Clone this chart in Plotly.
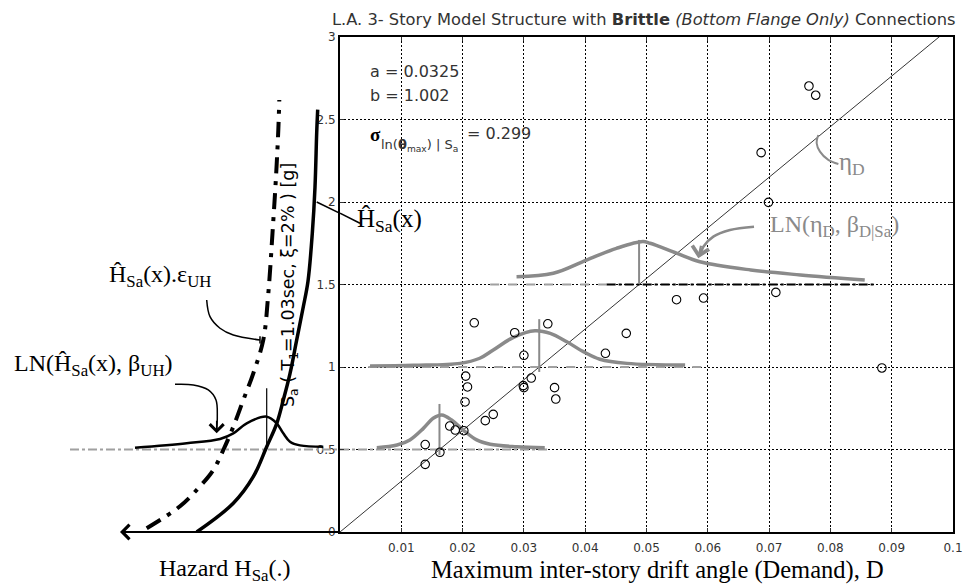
import numpy as np
import plotly.graph_objects as go

# ---- fitted demand model  theta_max = a * Sa^b  and its dispersion ----
a_fit = 0.0325
b_fit = 1.002
sigma_fit = 0.299

# ---- nonlinear analysis results: peak inter-story drift vs Sa [g] ----
drift = [0.0139, 0.0139, 0.0163, 0.0179, 0.0188, 0.0202, 0.0204, 0.0208, 0.0205, 0.0219,
         0.0237, 0.0250, 0.0285, 0.0299, 0.0300, 0.0300, 0.0312, 0.0339, 0.0350, 0.0352,
         0.0433, 0.0467, 0.0549, 0.0593, 0.0711, 0.0687, 0.0699, 0.0765, 0.0776, 0.0884]
sa_rec = [0.530, 0.410, 0.483, 0.642, 0.618, 0.614, 0.788, 0.879, 0.945, 1.268,
          0.675, 0.713, 1.208, 0.887, 0.875, 1.071, 0.933, 1.262, 0.875, 0.806,
          1.083, 1.204, 1.408, 1.418, 1.452, 2.299, 1.998, 2.703, 2.647, 0.994]

# ---- schematic demand densities LN(eta_D, beta_D|Sa) at three Sa levels ----
pdf_levels = [0.5, 1.0, 1.5]
pdf05_x = [0.0060, 0.0093, 0.0114, 0.0136, 0.0152, 0.0166, 0.0182, 0.0201, 0.0223, 0.0245, 0.0288, 0.0334]
pdf05_y = [0.511, 0.527, 0.558, 0.628, 0.689, 0.709, 0.679, 0.618, 0.558, 0.532, 0.517, 0.511]
pdf10_x = [0.0049, 0.0120, 0.0196, 0.0228, 0.0250, 0.0283, 0.0318, 0.0343, 0.0370, 0.0397, 0.0424, 0.0468, 0.0563]
pdf10_y = [1.006, 1.010, 1.022, 1.053, 1.103, 1.180, 1.220, 1.204, 1.153, 1.093, 1.047, 1.022, 1.012]
pdf15_x = [0.0288, 0.0348, 0.0402, 0.0451, 0.0494, 0.0506, 0.0549, 0.0587, 0.0670, 0.0751, 0.0856]
pdf15_y = [1.547, 1.568, 1.648, 1.719, 1.760, 1.750, 1.690, 1.638, 1.588, 1.558, 1.527]
median_lo = [0.467, 0.970, 1.507]
median_hi = [0.776, 1.290, 1.770]

# horizontal reference levels drawn under each density (drift extents)
level05_main = [0.0, 0.0338]
level10_main = [0.0046, 0.0599]
level15_grey = [0.0245, 0.0435]
level15_black = [0.0435, 0.0873]

# ---- hazard side (horizontal unit: log-hazard, growing to the right) ----
haz_sa = [0.0, 0.174, 0.335, 0.517, 0.657, 0.80, 0.96, 1.164, 1.365, 1.52, 1.81, 2.09, 2.42, 2.56]
haz_val = [1.967, 2.333, 2.533, 2.667, 2.767, 2.833, 2.90, 2.967, 3.033, 3.08, 3.123, 3.15, 3.167, 3.177]
hazu_sa = [0.023, 0.156, 0.277, 0.376, 0.497, 0.638, 0.80, 0.962, 1.164, 1.445, 1.812, 2.153, 2.436, 2.618]
hazu_val = [1.467, 1.80, 2.00, 2.133, 2.233, 2.333, 2.433, 2.533, 2.633, 2.683, 2.725, 2.76, 2.783, 2.793]
hpdf_val = [1.35, 1.867, 2.20, 2.333, 2.467, 2.667, 2.767, 2.833, 2.90, 3.00, 3.233]
hpdf_sa = [0.511, 0.538, 0.564, 0.598, 0.659, 0.699, 0.659, 0.598, 0.547, 0.525, 0.517]
hpdf_median = 2.667
hpdf_lo, hpdf_hi = 0.517, 0.871
haz_level05 = [0.70, 3.40]
haz_range = [0.0, 3.40]

x_ticks = [0.01, 0.02, 0.03, 0.04, 0.05, 0.06, 0.07, 0.08, 0.09, 0.1]
x_ticktext = ["0.01", "0.02", "0.03", "0.04", "0.05", "0.06", "0.07", "0.08", "0.09", "0.1"]
y_ticks = [0, 0.5, 1, 1.5, 2, 2.5, 3]
y_ticktext = ["0", "0.5", "1", "1.5", "2", "2.5", "3"]

GREY = "#8a8a8a"
SERIF = "Liberation Serif"
SANS = "DejaVu Sans"

W, H = 972, 586
ax_l, ax_r, ax_t, ax_b = 340, 953, 37, 532   # plot box in pixels

fig = go.Figure()

# ---------------- main panel ----------------
# median demand line
sa_line = np.linspace(0, 3.1, 80)
fig.add_trace(go.Scatter(x=a_fit * sa_line ** b_fit, y=sa_line, mode="lines",
                         line=dict(color="black", width=0.8), hoverinfo="skip"))

# reference levels
fig.add_trace(go.Scatter(x=level05_main, y=[pdf_levels[0]] * 2, mode="lines",
                         line=dict(color="#a0a0a0", width=2, dash="dashdot")))
fig.add_trace(go.Scatter(x=level10_main, y=[pdf_levels[1]] * 2, mode="lines",
                         line=dict(color="#a0a0a0", width=2, dash="dash")))
fig.add_trace(go.Scatter(x=level15_grey, y=[pdf_levels[2]] * 2, mode="lines",
                         line=dict(color="#a0a0a0", width=2, dash="dash")))
fig.add_trace(go.Scatter(x=level15_black, y=[pdf_levels[2]] * 2, mode="lines",
                         line=dict(color="black", width=2, dash="dashdot")))

# densities and their medians
for px_, py_ in [(pdf05_x, pdf05_y), (pdf10_x, pdf10_y), (pdf15_x, pdf15_y)]:
    fig.add_trace(go.Scatter(x=px_, y=py_, mode="lines", line_shape="spline",
                             line=dict(color=GREY, width=3.5)))
for lvl, lo, hi in zip(pdf_levels, median_lo, median_hi):
    xm = a_fit * lvl ** b_fit
    fig.add_trace(go.Scatter(x=[xm, xm], y=[lo, hi], mode="lines",
                             line=dict(color=GREY, width=2)))

# analysis points
fig.add_trace(go.Scatter(x=drift, y=sa_rec, mode="markers",
                         marker=dict(symbol="circle-open", size=8.5, color="black",
                                     line=dict(width=1.1, color="black"))))

# eta_D pointer
fig.add_trace(go.Scatter(x=[0.07803, 0.07776, 0.0783, 0.07966, 0.0813],
                         y=[2.406, 2.356, 2.305, 2.255, 2.23], mode="lines",
                         line_shape="spline", line=dict(color=GREY, width=2)))
# LN(eta_D, beta) pointer
fig.add_trace(go.Scatter(x=[0.06754, 0.06362, 0.0609, 0.05927, 0.0588],
                         y=[1.850, 1.830, 1.790, 1.729, 1.68], mode="lines",
                         line_shape="spline", line=dict(color=GREY, width=2.5)))
# H_Sa(x) label leader (main-panel part)
fig.add_trace(go.Scatter(x=[0.0, 0.00326], y=[1.932, 1.871], mode="lines",
                         line=dict(color="black", width=1.5)))

# ---------------- hazard panel ----------------
L = dict(xaxis="x2", yaxis="y2")
fig.add_trace(go.Scatter(x=haz_level05, y=[pdf_levels[0]] * 2, mode="lines",
                         line=dict(color="#a0a0a0", width=2, dash="dashdot"), **L))
fig.add_trace(go.Scatter(x=haz_val, y=haz_sa, mode="lines", line_shape="spline",
                         line=dict(color="black", width=3.5), **L))
fig.add_trace(go.Scatter(x=hazu_val, y=hazu_sa, mode="lines", line_shape="spline",
                         line=dict(color="black", width=4, dash="16px,8px,4px,8px"), **L))
fig.add_trace(go.Scatter(x=hpdf_val, y=hpdf_sa, mode="lines", line_shape="spline",
                         line=dict(color="black", width=2.5), **L))
fig.add_trace(go.Scatter(x=[hpdf_median] * 2, y=[hpdf_lo, hpdf_hi], mode="lines",
                         line=dict(color="black", width=1.2), **L))
# leader from H_Sa(x) label to the hazard curve
fig.add_trace(go.Scatter(x=[3.167, 3.40], y=[2.0, 1.932], mode="lines",
                         line=dict(color="black", width=1.5), **L))
# hook pointing at the epsilon-adjusted curve
fig.add_trace(go.Scatter(x=[2.067, 2.10, 2.20, 2.333, 2.60], y=[1.406, 1.305, 1.235, 1.194, 1.164],
                         mode="lines", line_shape="spline", line=dict(color="black", width=1.5), **L))
fig.add_trace(go.Scatter(x=[2.60, 2.60], y=[1.142, 1.186], mode="lines",
                         line=dict(color="black", width=1.5), **L))
# arrow pointing at the hazard density
fig.add_trace(go.Scatter(x=[1.75, 1.933, 2.083, 2.16, 2.173, 2.167], y=[0.895, 0.891, 0.861, 0.80, 0.699, 0.62],
                         mode="lines", line_shape="spline", line=dict(color="black", width=1.5), **L))

annotations = []
# arrowheads
annotations.append(dict(x=2.167, y=0.598, xref="x2", yref="y2", ax=0, ay=-14, showarrow=True,
                        arrowhead=4, arrowsize=1.8, arrowwidth=1.5, arrowcolor="black", text=""))
annotations.append(dict(x=0.05845, y=1.659, xref="x", yref="y", ax=3, ay=-14, showarrow=True,
                        arrowhead=4, arrowsize=1.5, arrowwidth=2.2, arrowcolor=GREY, text=""))
# hazard axis arrow
annotations.append(dict(x=1.2, y=0, xref="x2", yref="y2", ax=3.4, ay=0, axref="x2", ayref="y2",
                        showarrow=True, arrowhead=4, arrowsize=1.4, arrowwidth=2,
                        arrowcolor="black", text=""))

# text labels
annotations += [
    dict(x=1.07, y=1.552, xref="x2", yref="y2", xanchor="left", yanchor="middle", showarrow=False,
         text="Ĥ<sub>Sa</sub>(x).ε<sub>UH</sub>", font=dict(family=SERIF, size=24, color="black")),
    dict(x=0.12, y=1.012, xref="x2", yref="y2", xanchor="left", yanchor="middle", showarrow=False,
         text="LN(Ĥ<sub>Sa</sub>(x), β<sub>UH</sub>)", font=dict(family=SERIF, size=24, color="black")),
    dict(x=0.00245, y=1.89, xref="x", yref="y", xanchor="left", yanchor="middle", showarrow=False,
         text="Ĥ<sub>Sa</sub>(x)", font=dict(family=SERIF, size=25, color="black")),
    dict(x=0.00457, y=2.788, xref="x", yref="y", xanchor="left", yanchor="middle", showarrow=False,
         text=f"a = {a_fit}", font=dict(family=SANS, size=16, color="#333")),
    dict(x=0.00457, y=2.648, xref="x", yref="y", xanchor="left", yanchor="middle", showarrow=False,
         text=f"b = {b_fit:.3f}", font=dict(family=SANS, size=16, color="#333")),
    dict(x=0.00457, y=2.412, xref="x", yref="y", xanchor="left", yanchor="middle", showarrow=False,
         text="<b>σ</b>", font=dict(family=SERIF, size=19, color="black")),
    dict(x=0.00636, y=2.345, xref="x", yref="y", xanchor="left", yanchor="middle", showarrow=False,
         text="ln(<b>θ</b><sub>max</sub>) | S<sub>a</sub>", font=dict(family=SANS, size=13, color="#333")),
    dict(x=0.0204, y=2.418, xref="x", yref="y", xanchor="left", yanchor="middle", showarrow=False,
         text=f"= {sigma_fit}", font=dict(family=SANS, size=16, color="#333")),
    dict(x=0.0810, y=2.235, xref="x", yref="y", xanchor="left", yanchor="middle", showarrow=False,
         text="η<sub>D</sub>", font=dict(family=SERIF, size=25, color=GREY)),
    dict(x=0.0699, y=1.855, xref="x", yref="y", xanchor="left", yanchor="middle", showarrow=False,
         text="LN(η<sub>D</sub>, β<sub>D|Sa</sub>)", font=dict(family=SERIF, size=24, color=GREY)),
    # titles
    dict(x=330 / W, y=1 - 19 / H, xref="paper", yref="paper", xanchor="left", yanchor="middle",
         showarrow=False, font=dict(family=SANS, size=16.3, color="#333"),
         text="L.A. 3- Story Model Structure with <b>Brittle</b> <i>(Bottom Flange Only)</i> Connections"),
    dict(x=289 / W, y=1 - 285 / H, xref="paper", yref="paper", xanchor="center", yanchor="middle",
         showarrow=False, textangle=-90, font=dict(family=SANS, size=17.5, color="black"),
         text="S<sub>a</sub> ( T<sub>1</sub>=1.03sec, ξ=2% ) [g]"),
    dict(x=224 / W, y=1 - 570 / H, xref="paper", yref="paper", xanchor="center", yanchor="middle",
         showarrow=False, font=dict(family=SERIF, size=24, color="black"),
         text="Hazard H<sub>Sa</sub>(.)"),
    dict(x=657 / W, y=1 - 570 / H, xref="paper", yref="paper", xanchor="center", yanchor="middle",
         showarrow=False, font=dict(family=SERIF, size=24.5, color="black"),
         text="Maximum inter-story drift angle (Demand), D"),
]

y_dom = [1 - ax_b / H, 1 - ax_t / H]
fig.update_layout(
    width=W, height=H, margin=dict(l=0, r=0, t=0, b=0),
    paper_bgcolor="white", plot_bgcolor="rgba(0,0,0,0)",
    showlegend=False, template="none",
    xaxis=dict(domain=[ax_l / W, ax_r / W], range=[0, 0.1], anchor="y",
               tickvals=x_ticks, ticktext=x_ticktext, ticks="inside", ticklen=4,
               tickcolor="#333", showgrid=True, gridcolor="black", griddash="1.5px,2.5px", gridwidth=1.2,
               showline=True, linecolor="black", linewidth=1.8, mirror="ticks",
               zeroline=False, tickfont=dict(family=SANS, size=12, color="#333"),
               ticklabelstandoff=4, automargin=False),
    yaxis=dict(domain=y_dom, range=[0, 3], anchor="x",
               tickvals=y_ticks, ticktext=y_ticktext, ticks="inside", ticklen=4,
               tickcolor="#333", showgrid=True, gridcolor="black", griddash="1.5px,2.5px", gridwidth=1.2,
               showline=True, linecolor="black", linewidth=1.8, mirror="ticks",
               zeroline=False, tickfont=dict(family=SANS, size=12, color="#333"),
               automargin=False),
    xaxis2=dict(domain=[0, ax_l / W], range=haz_range, anchor="y2", visible=False),
    yaxis2=dict(domain=y_dom, range=[0, 3], anchor="x2", visible=False),
    annotations=annotations,
)

fig.write_html("out.html")
